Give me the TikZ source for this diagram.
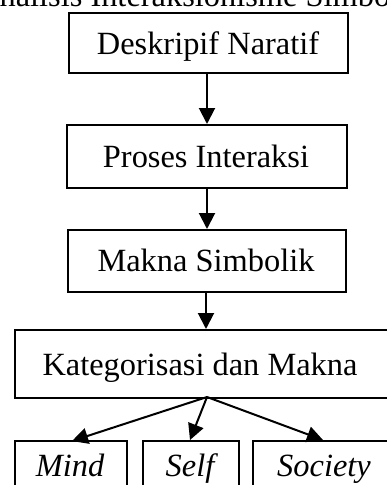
\documentclass[tikz,border=0pt]{standalone}
\usepackage{fontspec}
\setmainfont{Liberation Serif}
\usetikzlibrary{arrows.meta}
\begin{document}
\begin{tikzpicture}[x=1pt,y=-1pt,
  box/.style={draw=black,line width=2pt,fill=white,inner sep=0pt,anchor=north west},
  lbl/.style={anchor=base,inner sep=0pt,font=\fontsize{32.4}{38}\selectfont},
  arr/.style={line width=2pt,-{Triangle[length=16pt,width=16pt]}}]
\useasboundingbox (0,0) rectangle (387,485);
\clip (0,0) rectangle (387,485);
\fill[white] (0,0) rectangle (387,485);
% title (cropped at the top edge, as in the reference)
\node[anchor=base west,inner sep=0pt,font=\fontsize{32.4}{38}\selectfont] (title) at (-24,6) {Analisis Interaksionisme Simbolik};
% boxes
\node[box,minimum width=279pt,minimum height=60pt] (b1) at (68,12) {};
\node[box,minimum width=280pt,minimum height=63pt] (b2) at (66,124) {};
\node[box,minimum width=278pt,minimum height=62pt] (b3) at (67,229) {};
\node[box,minimum width=380pt,minimum height=68pt] (b4) at (14,329) {};
\node[box,minimum width=112pt,minimum height=60pt] (m) at (14,440) {};
\node[box,minimum width=96pt,minimum height=60pt] (s) at (142,440) {};
\node[box,minimum width=144pt,minimum height=60pt] (so) at (252,440) {};
% labels
\node[lbl] (t1) at (208,54) {Deskripif Naratif};
\node[lbl] (t2) at (206,167) {Proses Interaksi};
\node[lbl] (t3) at (206,271) {Makna Simbolik};
\node[lbl] (t4) at (200,375) {Kategorisasi dan Makna};
\node[lbl] (tm) at (70,476) {\itshape Mind};
\node[lbl] (ts) at (190,476) {\itshape Self};
\node[lbl] (tso) at (324,476) {\itshape Society};
% connector points
\coordinate (o1) at (207,72);
\coordinate (i2) at (207,124);
\coordinate (o2) at (207,187);
\coordinate (i3) at (207,229);
\coordinate (o3) at (206,291);
\coordinate (i4) at (206,329);
\coordinate (o4) at (207,397);
\coordinate (im) at (72,441);
\coordinate (is) at (190,440);
\coordinate (iso) at (323,440);
\draw[arr] (o1) -- (i2);
\draw[arr] (o2) -- (i3);
\draw[arr] (o3) -- (i4);
\draw[arr] (o4) -- (im);
\draw[arr] (o4) -- (is);
\draw[arr] (o4) -- (iso);
\end{tikzpicture}
\end{document}
